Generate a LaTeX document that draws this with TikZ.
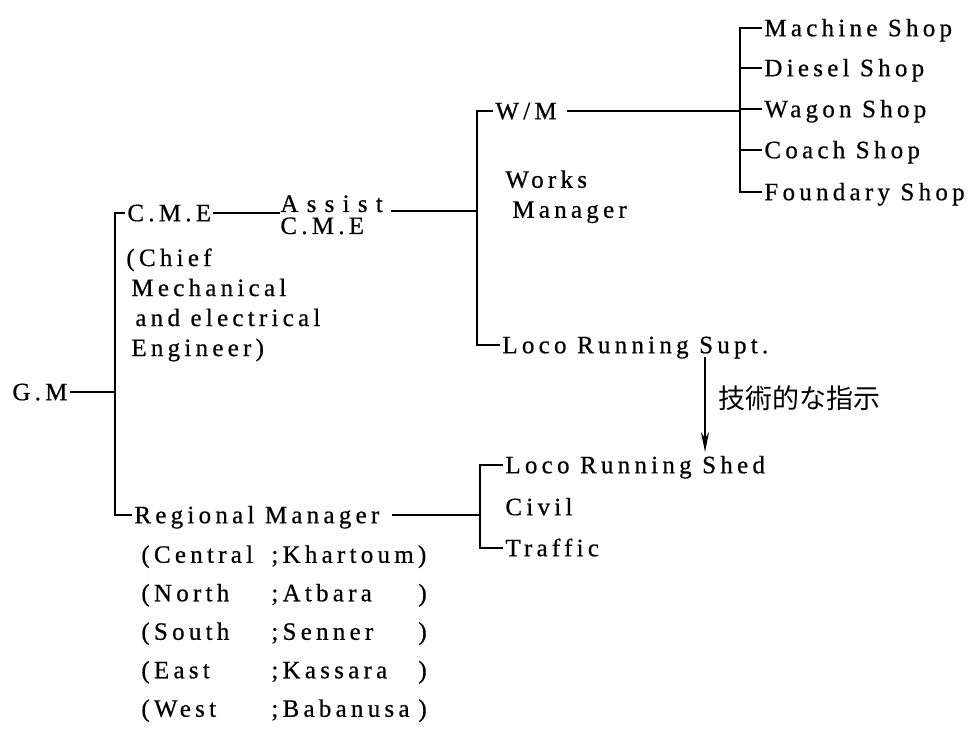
\documentclass[tikz,border=0pt]{standalone}
\usepackage{fontspec}
\setmainfont{Liberation Serif}[LetterSpace=17, FakeBold=0.6]
\newfontfamily\jpfont{Noto Sans CJK JP}
\usetikzlibrary{arrows.meta, positioning}

\begin{document}
\begin{tikzpicture}[x=0.5pt, y=-0.5pt,
    every node/.style={font=\fontsize{12.5}{15}\selectfont},
    lbl/.style={anchor=west, inner sep=1pt, text height=10pt, text depth=1.8pt},
    blk/.style={anchor=north west, inner sep=0pt, align=left},
    link/.style={line width=0.9pt}
]
    \useasboundingbox (0,0) rectangle (978,730);

    % top level
    \node[lbl] (gm) at (10,392) {G.M};
    \node[lbl] (cme) at (125,213) {C.M.E};
    \node[blk] (cmenote) at (126,248) {(Chief\\\hspace*{2.5pt}Mechanical\\\hspace*{4.5pt}and electrical\\\hspace*{2.5pt}Engineer)};
    \node[lbl] (rm) at (132,515) {Regional Manager};
    \node[blk, font=\fontsize{12.5}{19.25}\selectfont] (regions) at (141,545) {%
        \makebox[65pt][l]{(Central};Khartoum)\\
        \makebox[65pt][l]{(North}\makebox[73.5pt][l]{;Atbara})\\
        \makebox[65pt][l]{(South}\makebox[73.5pt][l]{;Senner})\\
        \makebox[65pt][l]{(East}\makebox[73.5pt][l]{;Kassara})\\
        \makebox[65pt][l]{(West}\makebox[73.5pt][l]{;Babanusa})};

    \coordinate (gmbus) at (115,392);
    \draw[link] (cme.west) -| (gmbus) |- (rm.west);
    \draw[link] (gm.east) -- (gmbus);

    % C.M.E side
    \node[blk, font=\fontsize{12.5}{11}\selectfont] (acme) at (280,195) {{\addfontfeature{LetterSpace=33}Assist}\\C.M.E};
    \draw[link] (cme.east) -- (cme.east -| acme.west);
    \node[lbl] (wm) at (493,111) {W/M};
    \node[blk] (works) at (505,170) {Works\\\hspace*{3.5pt}Manager};
    \node[lbl] (lrs) at (500,345) {Loco Running Supt.};
    \coordinate (wmbus) at (477,211);
    \draw[link] (wm.west) -| (wmbus) |- (lrs.west);
    \draw[link, shorten <=4pt] (acme.east |- wmbus) -- (wmbus);

    % shops
    \foreach \name/\txt/\y in {machine/Machine Shop/28, diesel/Diesel Shop/68,
        wagon/Wagon Shop/109, coach/Coach Shop/150, foundry/Foundary Shop/192}
        \node[lbl] (\name) at (762,\y) {\txt};
    \coordinate (shopbus) at (740,111);
    \draw[link] (machine.west) -| (shopbus) |- (foundry.west);
    \foreach \name in {diesel, wagon, coach}
        \draw[link] (\name.west) -- (\name.west -| shopbus);
    \draw[link, shorten <=4pt] (wm.east) -- (shopbus);

    % technical guidance
    \coordinate (arrtop) at (705,357);
    \coordinate (arrbot) at (705,452);
    \draw[link, -{Stealth[length=10pt, width=4pt]}] (arrtop) -- (arrbot);
    \node[lbl, font=\fontsize{13.5}{15}\jpfont] (hint) at (716,400) {技術的な指示};

    % regional side
    \node[lbl] (shed) at (503,465) {Loco Running Shed};
    \node[lbl] (civil) at (503,507) {Civil};
    \node[lbl] (traffic) at (503,548) {Traffic};
    \coordinate (rmbus) at (480,515);
    \draw[link] (shed.west) -| (rmbus) |- (traffic.west);
    \draw[link, shorten <=5pt] (rm.east) -- (rm.east -| rmbus);
\end{tikzpicture}
\end{document}
